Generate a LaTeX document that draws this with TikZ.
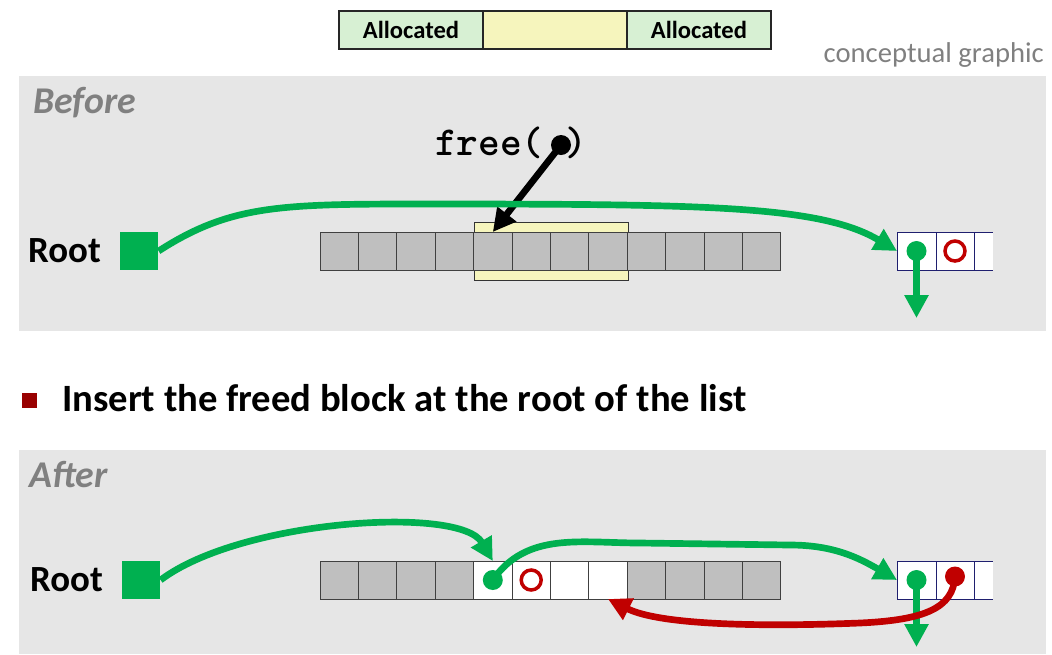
\documentclass[tikz,border=0pt]{standalone}
\usepackage{fontspec}
\setmainfont{Carlito}
\usetikzlibrary{positioning,arrows.meta}
\definecolor{pgreen}{HTML}{00B050}
\definecolor{pred}{HTML}{C00000}
\definecolor{bulletred}{HTML}{990000}
\definecolor{bgray}{HTML}{E6E6E6}
\definecolor{cgray}{HTML}{BFBFBF}
\definecolor{agreen}{HTML}{D7F0D3}
\definecolor{ayellow}{HTML}{F6F5BD}
\definecolor{lnavy}{HTML}{1F1F6F}

\begin{document}
\begin{tikzpicture}[
    x=0.02cm, y=0.02cm,
    panel/.style={fill=bgray},
    legend/.style={draw=black!85, line width=0.8pt, outer sep=0pt, inner sep=0pt, minimum width=2.88cm, minimum height=0.76cm, font=\fontsize{14}{16}\selectfont\bfseries},
    cell/.style={draw=black!75, fill=cgray, outer sep=0pt, inner sep=0pt, minimum width=0.768cm, minimum height=0.76cm},
    lcell/.style={draw=lnavy, fill=white, outer sep=0pt, inner sep=0pt, minimum width=0.78cm, minimum height=0.76cm},
    title/.style={anchor=west, text=black!50, font=\fontsize{21.5}{24}\selectfont\bfseries\itshape},
    rootlbl/.style={anchor=west, font=\fontsize{21}{24}\selectfont\bfseries},
    rootbox/.style={fill=pgreen, minimum size=0.77cm, inner sep=0pt},
    ptr/.style={circle, fill=pgreen, minimum size=0.4cm, inner sep=0pt},
    nullptr/.style={circle, draw=pred, line width=2pt, minimum size=0.4cm, inner sep=0pt},
    arrow/.style={-{Triangle[length=13pt,width=13pt]}, line width=3.8pt}
  ]
    \useasboundingbox (0,0) rectangle (1052,-654);

    % legend
    \node[legend, fill=agreen] (alloc1) at (411,-30) {Allocated};
    \node[legend, fill=ayellow, right=0pt of alloc1] (freeblk) {};
    \node[legend, fill=agreen, right=0pt of freeblk] (alloc2) {Allocated};
    \node[anchor=east, text=black!50, font=\fontsize{16.3}{18}\selectfont] (concept) at (1050,-55) {conceptual graphic};

    % before
    \fill[panel] (19,-76) rectangle (1046,-331);
    \node[title] (before) at (27,-103) {Before};
    \node[rootlbl] (rootA) at (22,-251) {Root};
    \node[rootbox] (headA) at (139,-251) {};
    \node[fill=ayellow, draw=black!80, minimum width=3.08cm, minimum height=1.16cm] (freed) at (551,-251) {};
    \foreach \i in {0,...,11}
      \node[cell] (a\i) at ({339.2+38.4*\i},-251) {};
    \fill[white] (897,-232) rectangle (993,-270);
    \node[lcell] (la1) at (916.5,-251) {};
    \node[lcell, minimum width=0.76cm, right=0pt of la1] (la2) {};
    \draw[lnavy] (la2.north east) -- ++(19,0) (la2.south east) -- ++(19,0);
    \node[ptr] (pa) at (la1) {};
    \node[nullptr] (qa) at (la2) {};
    \coordinate (downA) at (916.5,-318);

    \node[font=\ttfamily\bfseries\fontsize{23.5}{26}\selectfont] (call) at (511,-143) {free( )};
    \node[circle, fill=black, minimum size=0.4cm, inner sep=0pt] (arg) at (561,-145) {};

    \draw[arrow] (arg.center) -- (a4.north);
    \draw[arrow, pgreen] (headA.east) .. controls (230,-205) and (280,-204) .. (420,-204)
      .. controls (700,-204) and (820,-205) .. (la1.west);
    \draw[arrow, pgreen] (pa.center) -- (downA);

    % bullet
    \node[fill=bulletred, minimum size=0.3cm, inner sep=0pt] (bullet) at (29.5,-400.5) {};
    \node[anchor=west, font=\fontsize{22}{26}\selectfont\bfseries] (point) at (56,-398) {Insert the freed block at the root of the list};

    % after
    \fill[panel] (19,-450) rectangle (1046,-654);
    \node[title] (after) at (23,-475) {After};
    \node[rootlbl] (rootB) at (24,-580) {Root};
    \node[rootbox] (headB) at (141,-580) {};
    \foreach \i in {0,...,3,8,9,10,11}
      \node[cell] (c\i) at ({339.2+38.4*\i},-580) {};
    \foreach \i in {4,...,7}
      \node[cell, fill=white] (c\i) at ({339.2+38.4*\i},-580) {};
    \fill[white] (897,-561) rectangle (993,-599);
    \node[lcell] (lb1) at (916.5,-580) {};
    \node[lcell, minimum width=0.76cm, right=0pt of lb1] (lb2) {};
    \draw[lnavy] (lb2.north east) -- ++(19,0) (lb2.south east) -- ++(19,0);
    \node[ptr] (pb) at (c4) {};
    \node[nullptr] (qb) at (c5) {};
    \node[ptr] (pc) at (lb1) {};
    \node[ptr, fill=pred] (qc) at ([yshift=2]lb2) {};
    \coordinate (downB) at (916.5,-647);

    \draw[arrow, pgreen] (headB.east) .. controls (240,-520) and (460,-505) .. (c4.north);
    \draw[arrow, pgreen] (pb.center) to[out=55, in=180] (640,-543) -- (790,-545) to[out=0, in=150] (lb1.west);
    \draw[arrow, pgreen] (pc.center) -- (downB);
    \draw[arrow, pred] (qc.center) .. controls (953,-608) and (925,-620) .. (860,-623)
      .. controls (760,-627) and (660,-625) .. (c7.south);
\end{tikzpicture}
\end{document}
